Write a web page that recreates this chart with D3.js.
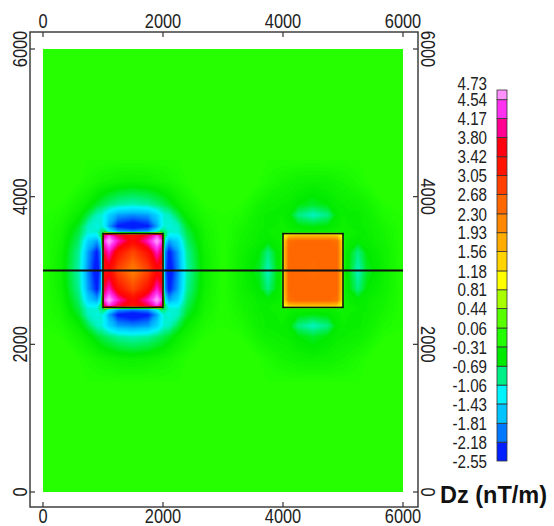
<!DOCTYPE html>
<html>
<head>
<meta charset="utf-8">
<script src="https://cdn.jsdelivr.net/npm/d3@7"></script>
<style>
  body { margin: 0; background: #fff; }
  text { font-family: "Liberation Sans", Arial, sans-serif; fill: #222; }
</style>
</head>
<body>
<svg id="chart" width="554" height="526"></svg>
<script>
// distances (m) from each body centre at which the field was read
const offsets = [0, 250, 400, 475, 525, 600, 750, 900, 1200, 1500];

// Dz readings, one quadrant per body (rows: |dy|, cols: |dx|)
const leftQuad = [
  [ 2.2,  2.8,  3.4,  3.3,  -1.9, -2.6,  -1.9,  -1.0,  -0.37, -0.12],
  [ 2.8,  3.3,  4.2,  3.8,  -1.8, -2.4,  -1.8,  -0.92, -0.34, -0.12],
  [ 3.4,  4.2,  4.73, 4.4,  -1.2, -1.8,  -1.5,  -0.8,  -0.3,  -0.12],
  [ 3.3,  3.8,  4.4,  3.9,  -0.7, -1.3,  -1.25, -0.73, -0.28, -0.12],
  [-1.9, -1.8, -1.2, -0.7,  -0.8, -1.1,  -1.1,  -0.68, -0.27, -0.12],
  [-2.6, -2.4, -1.8, -1.3,  -1.1, -1.15, -1.05, -0.6,  -0.24, -0.12],
  [-1.9, -1.8, -1.5, -1.25, -1.1, -1.05, -0.7,  -0.42, -0.18, -0.12],
  [-1.0, -0.92,-0.8, -0.73, -0.68,-0.6,  -0.42, -0.29, -0.12, -0.12],
  [-0.37,-0.34,-0.3, -0.28, -0.27,-0.24, -0.18, -0.12, -0.12, -0.12],
  [-0.12,-0.12,-0.12,-0.12, -0.12,-0.12, -0.12, -0.12, -0.12, -0.12]
];
const rightQuad = [
  [ 2.45, 2.5,  2.5,  1.6,  -0.4, -0.55, -1.05, -0.6,  -0.36, -0.12],
  [ 2.5,  2.5,  2.5,  1.6,  -0.4, -0.5,  -0.85, -0.5,  -0.34, -0.12],
  [ 2.5,  2.5,  2.4,  1.5,  -0.38,-0.42, -0.48, -0.42, -0.3,  -0.12],
  [ 1.6,  1.6,  1.5,  1.1,  -0.35,-0.38, -0.42, -0.4,  -0.28, -0.12],
  [-0.4, -0.4, -0.38,-0.35, -0.35,-0.38, -0.4,  -0.4,  -0.27, -0.12],
  [-0.55,-0.5, -0.42,-0.38, -0.38,-0.4,  -0.42, -0.38, -0.24, -0.12],
  [-1.05,-0.85,-0.48,-0.42, -0.4, -0.42, -0.42, -0.36, -0.18, -0.12],
  [-0.6, -0.5, -0.42,-0.4,  -0.4, -0.38, -0.36, -0.29, -0.12, -0.12],
  [-0.36,-0.34,-0.3, -0.28, -0.27,-0.24, -0.18, -0.12, -0.12, -0.12],
  [-0.12,-0.12,-0.12,-0.12, -0.12,-0.12, -0.12, -0.12, -0.12, -0.12]
];
const background = -0.12;
const centresX = [1500, 4500];
const centreY = 3000;

// buried bodies and the profile line
const bodies = [
  { x0: 1000, x1: 2000, y0: 2500, y1: 3500 },
  { x0: 4000, x1: 5000, y0: 2500, y1: 3500 }
];
const profile = { y: 3000, x0: 0, x1: 6000 };

const axisTicks = [0, 2000, 4000, 6000];

// colour scale levels and box colours (bottom to top)
const levels = [-2.55, -2.18, -1.81, -1.43, -1.06, -0.69, -0.31, 0.06, 0.44, 0.81, 1.18,
                1.56, 1.93, 2.30, 2.68, 3.05, 3.42, 3.80, 4.17, 4.54, 4.73];
const bandColors = ["#0020ff", "#0078ff", "#00c4ff", "#00f4ff", "#00f088", "#00ea00", "#22ff00",
                    "#58ff00", "#a8ff00", "#ffff00", "#ffd400", "#ffac00", "#ff8800", "#ff6800",
                    "#ff4000", "#ff1400", "#ff0010", "#ff0090", "#ff30f0", "#ff90ff"];

const svg = d3.select("#chart");
const x = d3.scaleLinear().domain([0, 6000]).range([43, 403]);
const y = d3.scaleLinear().domain([0, 6000]).range([492, 49]);
const frame = { left: 30, right: 418, top: 32, bottom: 507 };
const narrow = "scale(0.82,1)";   // condensed look of the original labels

// ---- field grid ----
const mirror = c => offsets.map(o => c - o).concat(offsets.map(o => c + o));
const uniq = a => Array.from(new Set(a)).sort((p, q) => p - q);
const xs = uniq(mirror(centresX[0]).concat(mirror(centresX[1])));
const ys = uniq([0, 6000].concat(mirror(centreY)));

function nodeValue(xv, yv) {
  const j = offsets.indexOf(Math.abs(yv - centreY));
  if (j < 0) return background;
  const k = xv <= 3000 ? 0 : 1;
  const i = offsets.indexOf(Math.abs(xv - centresX[k]));
  if (i < 0) return background;
  return (k ? rightQuad : leftQuad)[j][i];
}

const nx = xs.length, ny = ys.length;
const values = new Array(nx * ny);
ys.forEach((yv, j) => xs.forEach((xv, i) => { values[j * nx + i] = nodeValue(xv, yv); }));

const mids = d3.pairs(levels, (a, b) => (a + b) / 2);
const color = d3.scaleLinear().domain(mids).range(bandColors).clamp(true);

const step = 0.04;
const thresholds = d3.range(-2.6, 4.76, step);
const contours = d3.contours().size([nx, ny]).thresholds(thresholds)(values);

const ix = d3.scaleLinear().domain(xs.map((_, i) => i + 0.5)).range(xs).clamp(true);
const iy = d3.scaleLinear().domain(ys.map((_, i) => i + 0.5)).range(ys).clamp(true);
const toScreen = d3.geoTransform({
  point(px, py) { this.stream.point(x(ix(px)), y(iy(py))); }
});
const path = d3.geoPath(toScreen);

svg.append("clipPath").attr("id", "plotclip")
  .append("rect").attr("x", x(0)).attr("y", y(6000))
  .attr("width", x(6000) - x(0)).attr("height", y(0) - y(6000));

svg.append("g").attr("clip-path", "url(#plotclip)")
  .selectAll("path").data(contours).join("path")
  .attr("d", path)
  .attr("fill", d => color(d.value + step / 2));

// bodies and profile
svg.append("g").selectAll("rect").data(bodies).join("rect")
  .attr("x", d => x(d.x0)).attr("y", d => y(d.y1))
  .attr("width", d => x(d.x1) - x(d.x0)).attr("height", d => y(d.y0) - y(d.y1))
  .attr("fill", "none").attr("stroke", "#111").attr("stroke-width", 1.6);

svg.append("line")
  .attr("x1", x(profile.x0)).attr("x2", x(profile.x1))
  .attr("y1", y(profile.y)).attr("y2", y(profile.y))
  .attr("stroke", "#111").attr("stroke-width", 2);

// ---- frame and ticks ----
svg.append("rect")
  .attr("x", frame.left).attr("y", frame.top)
  .attr("width", frame.right - frame.left).attr("height", frame.bottom - frame.top)
  .attr("fill", "none").attr("stroke", "#333").attr("stroke-width", 1.4);

const ticks = svg.append("g").attr("stroke", "#333").attr("stroke-width", 1.2);
ticks.selectAll(".tt").data(axisTicks).join("line").attr("class", "tt")
  .attr("x1", d => x(d)).attr("x2", d => x(d)).attr("y1", frame.top).attr("y2", frame.top + 5);
ticks.selectAll(".tb").data(axisTicks).join("line").attr("class", "tb")
  .attr("x1", d => x(d)).attr("x2", d => x(d)).attr("y1", frame.bottom).attr("y2", frame.bottom - 5);
ticks.selectAll(".tl").data(axisTicks).join("line").attr("class", "tl")
  .attr("y1", d => y(d)).attr("y2", d => y(d)).attr("x1", frame.left).attr("x2", frame.left + 5);
ticks.selectAll(".tr").data(axisTicks).join("line").attr("class", "tr")
  .attr("y1", d => y(d)).attr("y2", d => y(d)).attr("x1", frame.right).attr("x2", frame.right - 5);

const labels = svg.append("g").style("font-size", "20px");
labels.selectAll(".lt").data(axisTicks).join("text").attr("class", "lt")
  .attr("transform", d => `translate(${x(d)},${frame.top - 4}) ${narrow}`)
  .attr("text-anchor", "middle").text(d => d);
labels.selectAll(".lb").data(axisTicks).join("text").attr("class", "lb")
  .attr("transform", d => `translate(${x(d)},523) ${narrow}`)
  .attr("text-anchor", "middle").text(d => d);
labels.selectAll(".ll").data(axisTicks).join("text").attr("class", "ll")
  .attr("transform", d => `translate(${frame.left - 3},${y(d)}) rotate(-90) ${narrow}`)
  .attr("text-anchor", "middle").text(d => d);
labels.selectAll(".lr").data(axisTicks).join("text").attr("class", "lr")
  .attr("transform", d => `translate(${frame.right + 3},${y(d)}) rotate(90) ${narrow}`)
  .attr("text-anchor", "middle").text(d => d);

// ---- colour scale bar ----
const cb = d3.scaleLinear().domain([levels[0], levels[levels.length - 1]]).range([461, 90]);
svg.append("g").selectAll("rect").data(d3.pairs(levels)).join("rect")
  .attr("x", 497).attr("width", 10)
  .attr("y", d => cb(d[1])).attr("height", d => cb(d[0]) - cb(d[1]))
  .attr("fill", (d, i) => bandColors[i])
  .attr("stroke", "#333").attr("stroke-width", 0.8);

svg.append("g").style("font-size", "18.5px")
  .selectAll("text").data(levels).join("text")
  .attr("transform", (d, i) => `translate(487,${cb(d) + (i === levels.length - 1 ? -7 : 0)}) ${narrow}`)
  .attr("dy", "0.36em")
  .attr("text-anchor", "end")
  .text(d => d.toFixed(2));

svg.append("text")
  .attr("x", 440).attr("y", 503)
  .style("font-weight", "bold").style("font-size", "23.5px").style("fill", "#111")
  .text("Dz (nT/m)");
</script>
</body>
</html>
